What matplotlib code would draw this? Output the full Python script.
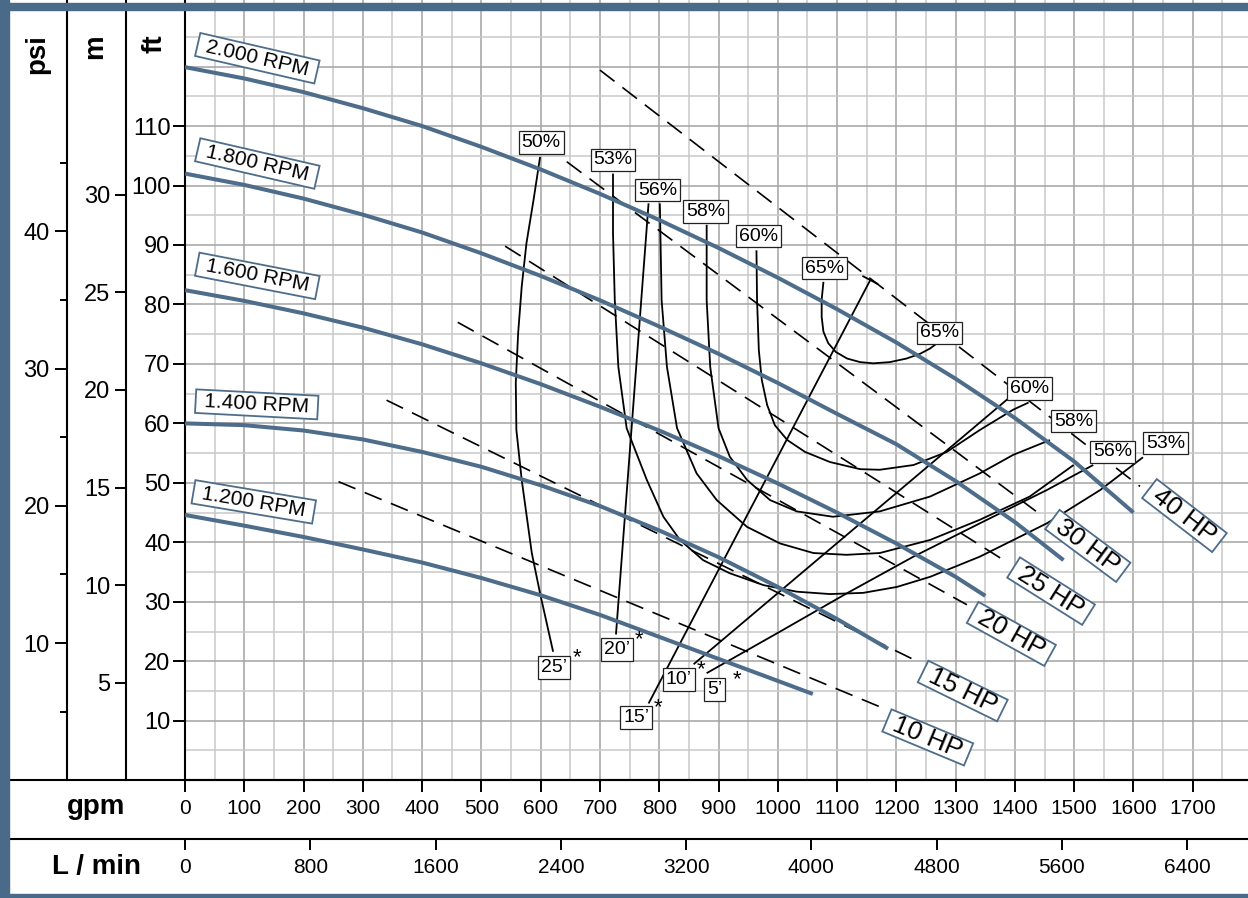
"""Pump performance chart: head vs. flow at several speeds, with HP, efficiency and NPSH lines."""

import numpy as np
import matplotlib
matplotlib.use("Agg")
import matplotlib.pyplot as plt
from matplotlib.lines import Line2D
from matplotlib.patches import Rectangle
from matplotlib.path import Path

plt.rcParams["font.family"] = ["Liberation Sans", "DejaVu Sans"]

W, H = 1248, 898

# speed curves, flow in gpm and head in ft
rpm_labels = ["2.000 RPM", "1.800 RPM", "1.600 RPM", "1.400 RPM", "1.200 RPM"]
gpm_2000 = [0, 100, 200, 300, 400, 500, 600, 700, 800, 900, 1000, 1100, 1200, 1300, 1400,
            1500, 1600]
ft_2000 = [119.9, 118.0, 115.7, 113.0, 110.0, 106.5, 102.7, 98.6, 94.2, 89.5, 84.5, 79.2,
           73.6, 67.5, 60.9, 53.6, 45.0]
gpm_1800 = [0, 100, 200, 300, 400, 500, 600, 700, 800, 900, 1000, 1100, 1200, 1300, 1400,
            1482]
ft_1800 = [102.0, 100.1, 97.8, 95.1, 92.1, 88.6, 84.8, 80.7, 76.3, 71.7, 66.8, 61.6, 56.5,
           50.3, 43.4, 37.0]
gpm_1600 = [0, 100, 200, 300, 400, 500, 600, 700, 800, 900, 1000, 1100, 1200, 1300, 1350]
ft_1600 = [82.4, 80.6, 78.5, 76.1, 73.3, 70.1, 66.6, 62.8, 58.8, 54.5, 49.9, 45.0, 39.8,
           34.2, 31.0]
gpm_1400 = [0, 100, 200, 300, 400, 500, 600, 700, 800, 900, 1000, 1100, 1186]
ft_1400 = [60.0, 59.7, 58.8, 57.3, 55.2, 52.7, 49.6, 46.1, 42.0, 37.5, 32.5, 27.1, 22.1]
gpm_1200 = [0, 100, 200, 300, 400, 500, 600, 700, 800, 900, 1000, 1059]
ft_1200 = [44.6, 42.8, 40.9, 38.8, 36.6, 34.0, 31.1, 27.8, 24.1, 20.4, 16.7, 14.5]

# motor power limits (dashed), start and end points
hp_labels = ["10 HP", "15 HP", "20 HP", "25 HP", "30 HP", "40 HP"]
hp_gpm = [[259, 1178], [340, 1237], [460, 1319], [540, 1386], [644, 1448], [700, 1611]]
hp_ft = [[50.2, 12.1], [63.9, 19.9], [77.0, 29.5], [89.8, 36.7], [104.0, 44.3], [119.4, 49.4]]

# efficiency contours
gpm_eff50 = [599, 588, 576, 568, 562, 558, 559, 568, 585, 599, 621]
ft_eff50 = [104.8, 97.6, 90.3, 83.0, 75.2, 66.8, 58.9, 50.5, 38.2, 31.4, 21.6]
gpm_eff53 = [722, 722, 725, 731, 745, 779, 807, 835, 874, 919, 976, 1032, 1088, 1144,
             1201, 1257, 1341, 1454, 1544, 1616]
ft_eff53 = [102.0, 92.0, 80.7, 69.5, 59.2, 50.5, 44.3, 40.4, 37.0, 34.8, 32.8, 31.7, 31.3,
            31.5, 32.5, 34.2, 37.6, 43.2, 48.8, 54.3]
gpm_eff56 = [801, 804, 813, 830, 863, 897, 948, 1004, 1060, 1116, 1172, 1257, 1341, 1425, 1499]
ft_eff56 = [97.0, 80.7, 69.5, 59.2, 51.6, 47.1, 42.6, 39.8, 38.2, 37.9, 38.2, 40.4, 43.8, 47.7, 53.0]
gpm_eff58 = [880, 880, 886, 900, 919, 948, 987, 1032, 1093, 1172, 1257, 1341, 1397, 1459]
ft_eff58 = [93.4, 80.7, 69.5, 59.2, 54.4, 50.5, 47.1, 45.2, 44.3, 45.2, 47.7, 51.6, 54.7, 57.2]
gpm_eff60 = [964, 965, 968, 973, 982, 995, 1016, 1046, 1088, 1139, 1172, 1229, 1285, 1341,
             1397, 1423]
ft_eff60 = [89.1, 80.7, 72.3, 67.3, 63.1, 59.7, 57.2, 55.2, 53.5, 52.3, 52.2, 53.0, 55.2,
            58.9, 62.3, 63.5]
gpm_eff65 = [1077, 1074, 1074, 1077, 1085, 1098, 1117, 1139, 1161, 1189, 1217, 1240, 1257, 1269]
ft_eff65 = [83.8, 80.8, 77.9, 75.4, 73.5, 72.0, 70.9, 70.3, 70.1, 70.3, 70.9, 71.7, 72.6, 73.5]

# NPSH required lines
gpm_npsh20 = [727, 782]
ft_npsh20 = [24.5, 97.0]
gpm_npsh15 = [782, 1156]
ft_npsh15 = [12.9, 84.1]
gpm_npsh10 = [858, 1389]
ft_npsh10 = [19.5, 64.2]
gpm_npsh5 = [880, 1004, 1116, 1229, 1341, 1454, 1532]
ft_npsh5 = [18.0, 25.0, 31.4, 37.6, 43.2, 48.8, 53.0]

# axis ticks
gpm_ticks = [0, 100, 200, 300, 400, 500, 600, 700, 800, 900, 1000, 1100, 1200, 1300,
             1400, 1500, 1600, 1700]
lpm_ticks = [0, 800, 1600, 2400, 3200, 4000, 4800, 5600, 6400]
ft_ticks = [10, 20, 30, 40, 50, 60, 70, 80, 90, 100, 110]
m_ticks = [5, 10, 15, 20, 25, 30]
psi_ticks = [10, 20, 30, 40]
psi_minor = [5, 15, 25, 35, 45]

# label text and anchor positions (gpm, ft)
rpm_label_pos = [(122, 121.4), (122, 103.7), (122, 84.8), (121, 63.2), (116, 46.8)]
rpm_label_rot = [-13, -13, -11, -3, -9.5]
eff_labels = ["50%", "53%", "56%", "58%", "60%", "65%", "65%", "60%", "58%", "56%", "53%"]
eff_label_pos = [(601, 107.2), (722, 104.3), (797, 99.2), (878, 95.6), (967, 91.5),
                 (1079, 86.1), (1273, 75.2), (1425, 65.9), (1499, 60.4), (1565, 55.2),
                 (1654, 56.7)]
npsh_labels = ["25\u2019", "20\u2019", "15\u2019", "10\u2019", "5\u2019"]
npsh_label_pos = [(623, 18.9), (729, 22.0), (761, 10.5), (833, 16.9), (893, 15.2)]

BLUE = "#4e6d8a"
BORDER = "#4a6a89"
GRID_MAJOR = "#a3a3a3"
GRID_MINOR = "#c9c9c9"

PX_PER_GPM = 0.5928
PX_PER_FT = 5.947
X0, Y0 = 185.0, 780.2


def label_box(padx, pady):
    """Rectangular text box with separate horizontal and vertical padding."""
    def box(x0, y0, width, height, mutation_size):
        px, py = padx * mutation_size, pady * mutation_size
        xa, ya = x0 - px, y0 - py
        xb, yb = x0 + width + px, y0 + height + py
        return Path([(xa, ya), (xb, ya), (xb, yb), (xa, yb), (xa, ya)], closed=True)
    return box


fig = plt.figure(figsize=(W / 100, H / 100), dpi=100)
ax = fig.add_axes([X0 / W, 1 - Y0 / H, (W - X0) / W, Y0 / H])
ax.set_xlim(0, (W - X0) / PX_PER_GPM)
ax.set_ylim(0, Y0 / PX_PER_FT)

for g in np.arange(50, 1800, 50):
    ax.axvline(g, color=GRID_MAJOR if g % 100 == 0 else GRID_MINOR, lw=1.1, zorder=0)
for f in np.arange(5, 135, 5):
    ax.axhline(f, color=GRID_MAJOR if f % 10 == 0 else GRID_MINOR, lw=1.1, zorder=0)

for side in ("top", "right"):
    ax.spines[side].set_visible(False)
for side in ("left", "bottom"):
    ax.spines[side].set_linewidth(1.5)

ax.set_xticks(gpm_ticks)
ax.set_yticks(ft_ticks)
ax.tick_params(axis="x", length=8.4, width=1.4, labelsize=15, pad=5)
ax.tick_params(axis="y", length=9, width=1.4, labelsize=17, pad=1.5)

# secondary scales
FT_PER_PSI = 2.3067
FT_PER_M = 3.2808
LPM_PER_GPM = 3.7854

sec_m = ax.secondary_yaxis((126 - X0) / (W - X0),
                           functions=(lambda f: f / FT_PER_M, lambda m: m * FT_PER_M))
sec_m.set_yticks(m_ticks)
sec_m.tick_params(length=7.7, width=1.4, labelsize=17, pad=3.5)
sec_psi = ax.secondary_yaxis((67 - X0) / (W - X0),
                             functions=(lambda f: f / FT_PER_PSI, lambda p: p * FT_PER_PSI))
sec_psi.set_yticks(psi_ticks)
sec_psi.set_yticks(psi_minor, minor=True)
sec_psi.tick_params(which="major", length=8.4, width=1.4, labelsize=17, pad=4)
sec_psi.tick_params(which="minor", length=4.8, width=1.4)
for sec in (sec_m, sec_psi):
    for sp in sec.spines.values():
        sp.set_linewidth(1.5)

sec_l = ax.secondary_xaxis(-(839 - Y0) / Y0,
                           functions=(lambda g: g * LPM_PER_GPM, lambda l: l / LPM_PER_GPM))
sec_l.set_xticks(lpm_ticks)
sec_l.tick_params(length=8, width=1.4, labelsize=15, pad=6)
for sp in sec_l.spines.values():
    sp.set_visible(False)

# dashed HP lines with labels
for label, g, f in zip(hp_labels, hp_gpm, hp_ft):
    ax.plot(g, f, color="black", lw=1.2, dashes=(11, 6), zorder=2)
    p0 = ax.transData.transform((g[0], f[0]))
    p1 = ax.transData.transform((g[1], f[1]))
    ang = np.degrees(np.arctan2(p1[1] - p0[1], p1[0] - p0[0]))
    ax.annotate(label, xy=(g[1], f[1]), xytext=(32, -21), textcoords="offset points",
                rotation=ang, ha="center", va="center", fontsize=19, zorder=7,
                bbox=dict(boxstyle=label_box(0.29, 0.0), fc="white", ec=BLUE, lw=1.3))

# efficiency and NPSH lines
eff_curves = [(gpm_eff50, ft_eff50), (gpm_eff53, ft_eff53), (gpm_eff56, ft_eff56),
              (gpm_eff58, ft_eff58), (gpm_eff60, ft_eff60), (gpm_eff65, ft_eff65),
              (gpm_npsh20, ft_npsh20), (gpm_npsh15, ft_npsh15), (gpm_npsh10, ft_npsh10),
              (gpm_npsh5, ft_npsh5)]
for g, f in eff_curves:
    ax.plot(g, f, color="black", lw=1.3, zorder=3, solid_capstyle="butt",
            solid_joinstyle="round")

# T end on the 15' line
p0 = ax.transData.transform((gpm_npsh15[0], ft_npsh15[0]))
p1 = ax.transData.transform((gpm_npsh15[1], ft_npsh15[1]))
d = (p1 - p0) / np.hypot(*(p1 - p0))
n = np.array([d[1], -d[0]])
tee = ax.transData.inverted().transform([p1 + 8 * n, p1 - 8 * n])
ax.plot(tee[:, 0], tee[:, 1], color="black", lw=1.3, zorder=3)

# speed curves
rpm_curves = [(gpm_2000, ft_2000), (gpm_1800, ft_1800), (gpm_1600, ft_1600),
              (gpm_1400, ft_1400), (gpm_1200, ft_1200)]
for (g, f), label, pos, rot in zip(rpm_curves, rpm_labels, rpm_label_pos, rpm_label_rot):
    ax.plot(g, f, color=BLUE, lw=2.9, zorder=4, solid_capstyle="butt",
            solid_joinstyle="round")
    ax.text(pos[0], pos[1], label, rotation=rot, ha="center", va="center", fontsize=15,
            zorder=7, bbox=dict(boxstyle=label_box(0.42, 0.11), fc="white", ec=BLUE, lw=1.3))

box_black = dict(boxstyle="square,pad=0.14", fc="white", ec="#222222", lw=0.9)
for label, pos in zip(eff_labels, eff_label_pos):
    ax.text(pos[0], pos[1], label, ha="center", va="center", fontsize=14, zorder=6,
            bbox=box_black)
for label, pos in zip(npsh_labels, npsh_label_pos):
    ax.text(pos[0], pos[1], label, ha="center", va="center", fontsize=14, zorder=6,
            bbox=dict(boxstyle="square,pad=0.16", fc="white", ec="#222222", lw=0.9))
    ax.annotate("*", xy=pos, xytext=(16, 7), textcoords="offset points", ha="center",
                va="center", fontsize=16, zorder=6)


# frame, separators and unit labels
def fx(x):
    return x / W


def fy(y):
    return 1 - y / H


fig.add_artist(Line2D([fx(9), 1], [fy(Y0), fy(Y0)], color="black", lw=1.5))
fig.add_artist(Line2D([fx(9), 1], [fy(839), fy(839)], color="black", lw=1.5))
fig.add_artist(Rectangle((0, 0), fx(9), 1, color=BORDER, zorder=10))
fig.add_artist(Rectangle((0, fy(9.5)), 1, fy(3) - fy(9.5), color=BORDER, zorder=10))
fig.add_artist(Rectangle((0, 0), 1, fy(894), color=BORDER, zorder=10))

for txt, x in (("psi", 37), ("m", 95), ("ft", 154)):
    fig.text(fx(x), fy(34), txt, rotation=90, ha="center", va="top", fontsize=20,
             fontweight="bold")
fig.text(fx(96), fy(807), "gpm", ha="center", va="center", fontsize=20, fontweight="bold")
fig.text(fx(96), fy(867), "L / min", ha="center", va="center", fontsize=20,
         fontweight="bold")

fig.savefig("out.png", dpi=100)
